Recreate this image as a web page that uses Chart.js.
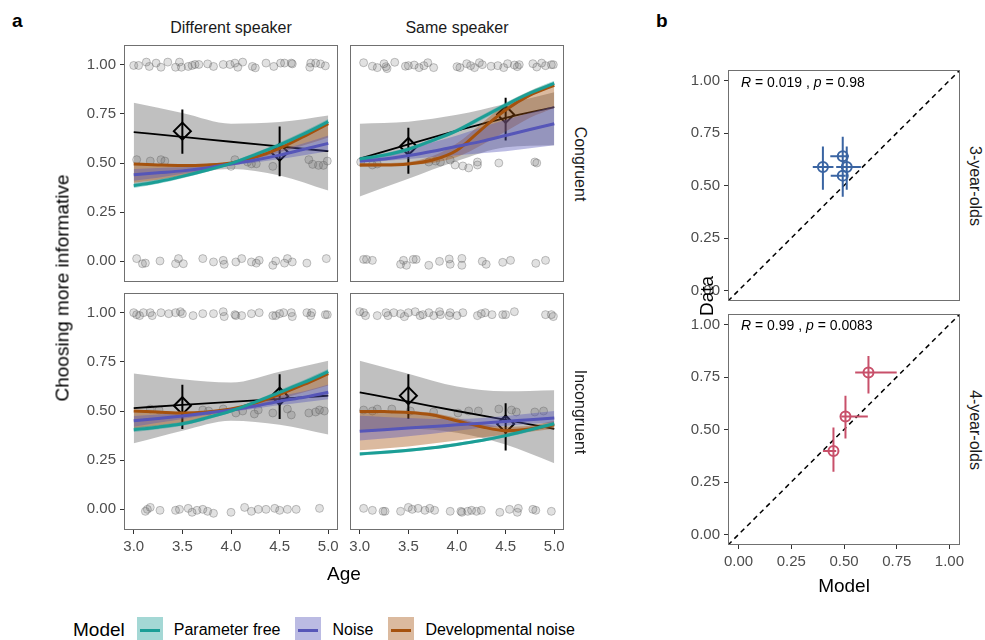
<!DOCTYPE html>
<html>
<head>
<meta charset="utf-8">
<script src="https://cdn.jsdelivr.net/npm/chart.js@4.4.0/dist/chart.umd.min.js"></script>
<style>
  html, body { margin: 0; padding: 0; background: #fff; }
  body { width: 985px; height: 640px; position: relative; overflow: hidden;
         font-family: "Liberation Sans", Arial, Helvetica, sans-serif; color: #000; }
  canvas { position: absolute; }
  .txt { position: absolute; white-space: pre; line-height: 1; }
  .ctr { transform: translate(-50%, -50%); }
  .down { transform: translate(-50%, -50%) rotate(90deg); }
  .up { transform: translate(-50%, -50%) rotate(-90deg); }
  .strip { font-size: 16px; color: #1a1a1a; }
  .title { font-size: 19px; }
  .tag { font-size: 19px; font-weight: bold; }
  .corr { font-size: 14px; transform: translateY(-50%); }
  #legend { position: absolute; left: 73px; top: 617px; height: 26px; display: flex; align-items: center; }
  #legend .key { width: 26px; height: 26px; position: relative; margin-right: 11px; }
  #legend .key span { position: absolute; left: 3px; right: 3px; top: 11.5px; height: 3px; }
  #legend .lab { font-size: 16px; margin-right: 15px; }
</style>
</head>
<body>
<div id="legend"></div>
<script>
const FONT = '"Liberation Sans", Arial, Helvetica, sans-serif';

// axes / categories
const ages = [3, 3.25, 3.5, 3.75, 4, 4.25, 4.5, 4.75, 5];
const agesFit = [3, 3.5, 4, 4.5, 5];
const agesMean = [3.5, 4.5];
const ageTicks = [3, 3.5, 4, 4.5, 5];
const propTicks = [0, 0.25, 0.5, 0.75, 1];
const modelNames = ['Parameter free', 'Noise', 'Developmental noise'];
const modelColors = ['#1b9e96', '#5656b8', '#a5520e'];
const modelFills = ['rgba(27,158,150,0.4)', 'rgba(86,86,184,0.4)', 'rgba(165,82,14,0.4)'];
const speakers = ['Different speaker', 'Same speaker'];
const conditions = ['Congruent', 'Incongruent'];
const ageGroups = ['3-year-olds', '4-year-olds'];

// --- Different speaker / Congruent
const diffCongPf = [0.385, 0.405, 0.432, 0.463, 0.498, 0.543, 0.592, 0.648, 0.71];
const diffCongPfLo = [0.373, 0.394, 0.422, 0.454, 0.49, 0.533, 0.58, 0.635, 0.696];
const diffCongPfHi = [0.397, 0.416, 0.442, 0.472, 0.506, 0.553, 0.604, 0.661, 0.724];
const diffCongNoise = [0.44, 0.45, 0.46, 0.475, 0.495, 0.515, 0.54, 0.57, 0.60];
const diffCongNoiseLo = [0.41, 0.425, 0.445, 0.465, 0.487, 0.503, 0.52, 0.54, 0.56];
const diffCongNoiseHi = [0.47, 0.475, 0.478, 0.485, 0.503, 0.53, 0.565, 0.60, 0.64];
const diffCongDev = [0.495, 0.49, 0.487, 0.49, 0.50, 0.53, 0.575, 0.635, 0.70];
const diffCongDevLo = [0.40, 0.415, 0.435, 0.46, 0.49, 0.52, 0.555, 0.59, 0.63];
const diffCongDevHi = [0.50, 0.495, 0.49, 0.495, 0.505, 0.54, 0.59, 0.65, 0.71];
const diffCongFit = [0.657, 0.633, 0.608, 0.584, 0.56];
const diffCongFitLo = [0.378, 0.437, 0.47, 0.437, 0.36];
const diffCongFitHi = [0.806, 0.754, 0.70, 0.708, 0.742];
const diffCongMean = [0.662, 0.555];
const diffCongMeanLo = [0.547, 0.433];
const diffCongMeanHi = [0.772, 0.686];
const diffCongPtsX = [
  3.00, 3.05, 3.13, 3.16, 3.23, 3.28, 3.35, 3.43, 3.47, 3.49, 3.56, 3.60, 3.63, 3.67, 3.76, 3.82, 3.92,
  3.99, 4.04, 4.07, 4.12, 4.22, 4.25, 4.36, 4.44, 4.51, 4.55, 4.62, 4.63, 4.81, 4.82, 4.87, 4.92, 4.97,
  3.03, 3.17, 3.28, 3.32, 4.00, 4.04, 4.17, 4.21, 4.26, 4.43, 4.80, 4.84, 4.90, 4.95, 4.99,
  3.03, 3.09, 3.12, 3.27, 3.43, 3.46, 3.51, 3.71, 3.82, 3.92, 3.93, 4.05, 4.11, 4.21, 4.26, 4.29,
  4.43, 4.46, 4.55, 4.58, 4.63, 4.78, 4.98
];
const diffCongPtsY = [
  0.996, 0.996, 1.013, 0.991, 1.008, 0.987, 1.013, 0.987, 1.013, 0.987, 0.991, 0.996, 1.001, 1.001, 1.004, 0.991, 1.001,
  1.001, 1.008, 0.987, 1.013, 0.991, 0.984, 1.008, 0.991, 1.008, 1.008, 1.008, 1.004, 0.987, 1.008, 1.008, 1.004, 0.994,
  0.517, 0.510, 0.517, 0.510, 0.483, 0.517, 0.505, 0.496, 0.496, 0.483, 0.517, 0.493, 0.488, 0.488, 0.510,
  0.014, -0.012, -0.009, 0.002, -0.012, 0.014, -0.012, 0.014, -0.003, 0.005, -0.015, -0.003, 0.014, -0.003, -0.009, 0.005,
  -0.020, 0.002, -0.009, 0.014, -0.003, -0.009, 0.014
];

// --- Same speaker / Congruent
const sameCongPf = [0.52, 0.54, 0.57, 0.615, 0.665, 0.73, 0.795, 0.855, 0.905];
const sameCongPfLo = [0.51, 0.53, 0.56, 0.605, 0.655, 0.718, 0.782, 0.842, 0.892];
const sameCongPfHi = [0.53, 0.55, 0.58, 0.625, 0.675, 0.742, 0.808, 0.868, 0.918];
const sameCongNoise = [0.51, 0.52, 0.538, 0.56, 0.585, 0.61, 0.64, 0.67, 0.70];
const sameCongNoiseLo = [0.50, 0.51, 0.52, 0.53, 0.54, 0.55, 0.56, 0.575, 0.59];
const sameCongNoiseHi = [0.52, 0.54, 0.57, 0.605, 0.64, 0.68, 0.72, 0.755, 0.79];
const sameCongDev = [0.49, 0.49, 0.495, 0.515, 0.565, 0.67, 0.77, 0.845, 0.895];
const sameCongDevLo = [0.48, 0.485, 0.49, 0.50, 0.53, 0.59, 0.66, 0.73, 0.78];
const sameCongDevHi = [0.50, 0.50, 0.505, 0.535, 0.60, 0.70, 0.80, 0.865, 0.91];
const sameCongFit = [0.522, 0.595, 0.665, 0.73, 0.784];
const sameCongFitLo = [0.33, 0.42, 0.51, 0.58, 0.59];
const sameCongFitHi = [0.70, 0.71, 0.745, 0.80, 0.86];
const sameCongMean = [0.584, 0.747];
const sameCongMeanLo = [0.446, 0.615];
const sameCongMeanHi = [0.679, 0.832];
const sameCongPtsX = [
  3.04, 3.13, 3.18, 3.25, 3.27, 3.28, 3.36, 3.47, 3.50, 3.56, 3.61, 3.66, 3.70, 3.76, 4.00, 4.03, 4.10,
  4.14, 4.18, 4.23, 4.26, 4.35, 4.42, 4.48, 4.52, 4.59, 4.62, 4.64, 4.78, 4.82, 4.87, 4.91, 4.97, 4.99,
  3.01, 3.13, 3.18, 3.71, 3.78, 3.83, 3.93, 3.98, 4.06, 4.12, 4.21, 4.21, 4.43, 4.80, 4.82,
  3.04, 3.07, 3.13, 3.42, 3.45, 3.48, 3.55, 3.58, 3.71, 3.82, 3.92, 3.93, 4.05, 4.05, 4.26, 4.30,
  4.47, 4.55, 4.81, 4.91
];
const sameCongPtsY = [
  1.010, 0.992, 0.985, 1.005, 0.990, 0.980, 1.012, 0.992, 0.995, 0.998, 0.985, 0.995, 1.010, 0.985, 0.990, 0.985, 1.005,
  0.995, 0.985, 1.010, 1.000, 0.992, 0.995, 0.985, 1.005, 0.998, 0.990, 1.000, 1.005, 0.988, 1.008, 0.995, 1.000, 1.000,
  0.505, 0.490, 0.495, 0.505, 0.510, 0.505, 0.515, 0.490, 0.485, 0.475, 0.505, 0.490, 0.500, 0.505, 0.500,
  0.010, 0.010, 0.005, -0.015, 0.005, -0.020, 0.010, 0.010, -0.020, 0.000, 0.012, -0.015, 0.015, -0.020, 0.000, -0.015,
  -0.005, 0.005, -0.010, 0.005
];

// --- Different speaker / Incongruent
const diffIncPf = [0.405, 0.418, 0.435, 0.465, 0.50, 0.545, 0.595, 0.645, 0.70];
const diffIncPfLo = [0.393, 0.407, 0.425, 0.456, 0.492, 0.535, 0.583, 0.632, 0.686];
const diffIncPfHi = [0.417, 0.429, 0.445, 0.474, 0.508, 0.555, 0.607, 0.658, 0.714];
const diffIncNoise = [0.45, 0.462, 0.475, 0.49, 0.505, 0.525, 0.55, 0.57, 0.595];
const diffIncNoiseLo = [0.42, 0.44, 0.46, 0.48, 0.497, 0.512, 0.53, 0.545, 0.56];
const diffIncNoiseHi = [0.475, 0.482, 0.49, 0.50, 0.513, 0.54, 0.575, 0.60, 0.635];
const diffIncDev = [0.50, 0.495, 0.49, 0.495, 0.51, 0.54, 0.585, 0.635, 0.69];
const diffIncDevLo = [0.41, 0.425, 0.44, 0.465, 0.495, 0.525, 0.56, 0.595, 0.63];
const diffIncDevHi = [0.505, 0.50, 0.495, 0.50, 0.515, 0.55, 0.60, 0.65, 0.70];
const diffIncFit = [0.515, 0.531, 0.546, 0.562, 0.578];
const diffIncFitLo = [0.336, 0.40, 0.451, 0.43, 0.38];
const diffIncFitHi = [0.691, 0.662, 0.645, 0.70, 0.755];
const diffIncMean = [0.527, 0.575];
const diffIncMeanLo = [0.409, 0.459];
const diffIncMeanHi = [0.633, 0.687];
const diffIncPtsX = [
  3.00, 3.03, 3.06, 3.10, 3.17, 3.19, 3.28, 3.36, 3.43, 3.48, 3.50, 3.61, 3.71, 3.82, 3.92, 3.93,
  4.04, 4.05, 4.11, 4.21, 4.29, 4.43, 4.46, 4.50, 4.54, 4.62, 4.63, 4.78, 4.82, 4.83, 4.97, 4.99,
  3.17, 3.26, 3.71, 3.77, 3.92, 4.05, 4.12, 4.24, 4.28, 4.43, 4.58, 4.62, 4.80, 4.87, 4.91, 4.96,
  3.12, 3.14, 3.17, 3.27, 3.43, 3.47, 3.56, 3.60, 3.65, 3.71, 3.76, 3.82, 4.00, 4.14, 4.21, 4.28,
  4.36, 4.45, 4.50, 4.58, 4.67, 4.91
];
const diffIncPtsY = [
  1.000, 0.990, 0.985, 1.000, 1.000, 0.985, 1.000, 0.995, 1.000, 1.005, 0.995, 0.985, 0.995, 0.995, 1.005, 0.980,
  0.990, 0.985, 0.985, 0.995, 1.000, 0.985, 0.985, 0.995, 1.000, 1.000, 0.980, 1.000, 0.985, 1.000, 0.990, 0.990,
  0.510, 0.505, 0.505, 0.500, 0.510, 0.490, 0.500, 0.485, 0.505, 0.490, 0.510, 0.480, 0.490, 0.495, 0.505, 0.500,
  -0.010, 0.000, 0.010, -0.005, -0.005, 0.000, 0.005, -0.015, -0.005, 0.000, -0.010, -0.020, -0.015, 0.010, -0.010, 0.000,
  0.000, 0.005, -0.005, 0.000, 0.000, 0.005
];

// --- Same speaker / Incongruent
const sameIncPf = [0.282, 0.29, 0.30, 0.313, 0.33, 0.35, 0.375, 0.405, 0.435];
const sameIncPfLo = [0.274, 0.282, 0.292, 0.305, 0.322, 0.342, 0.366, 0.395, 0.424];
const sameIncPfHi = [0.29, 0.298, 0.308, 0.321, 0.338, 0.358, 0.384, 0.415, 0.446];
const sameIncNoise = [0.397, 0.405, 0.413, 0.421, 0.43, 0.438, 0.447, 0.456, 0.465];
const sameIncNoiseLo = [0.35, 0.36, 0.372, 0.385, 0.40, 0.415, 0.425, 0.435, 0.44];
const sameIncNoiseHi = [0.476, 0.47, 0.465, 0.46, 0.46, 0.465, 0.475, 0.487, 0.50];
const sameIncDev = [0.498, 0.497, 0.493, 0.48, 0.45, 0.42, 0.40, 0.408, 0.43];
const sameIncDevLo = [0.30, 0.31, 0.32, 0.335, 0.35, 0.365, 0.38, 0.395, 0.41];
const sameIncDevHi = [0.505, 0.503, 0.50, 0.49, 0.465, 0.435, 0.42, 0.425, 0.45];
const sameIncFit = [0.595, 0.548, 0.50, 0.455, 0.409];
const sameIncFitLo = [0.40, 0.41, 0.39, 0.33, 0.235];
const sameIncFitHi = [0.755, 0.69, 0.625, 0.60, 0.606];
const sameIncMean = [0.578, 0.434];
const sameIncMeanLo = [0.459, 0.299];
const sameIncMeanHi = [0.687, 0.539];
const sameIncPtsX = [
  3.00, 3.04, 3.06, 3.18, 3.27, 3.29, 3.35, 3.42, 3.46, 3.50, 3.57, 3.62, 3.65, 3.71, 3.76, 3.82,
  3.83, 3.92, 3.93, 4.00, 4.06, 4.21, 4.25, 4.29, 4.36, 4.47, 4.50, 4.59, 4.91, 4.97, 4.99,
  3.04, 3.13, 3.18, 3.33, 3.52, 3.76, 4.01, 4.12, 4.22, 4.43, 4.56, 4.61, 4.80, 4.89,
  3.04, 3.13, 3.24, 3.26, 3.42, 3.50, 3.54, 3.60, 3.67, 3.72, 3.77, 3.93, 4.04, 4.05, 4.11, 4.15,
  4.20, 4.25, 4.44, 4.54, 4.62, 4.63, 4.78, 4.81, 4.97
];
const sameIncPtsY = [
  1.005, 1.000, 0.985, 0.985, 1.000, 0.985, 1.000, 0.995, 0.980, 1.000, 1.005, 0.985, 0.990, 1.000, 0.985, 1.005,
  0.990, 0.985, 1.000, 0.985, 1.000, 0.985, 0.995, 1.000, 0.990, 0.990, 0.990, 1.005, 0.990, 0.990, 0.980,
  0.505, 0.500, 0.510, 0.510, 0.500, 0.495, 0.490, 0.500, 0.500, 0.510, 0.505, 0.495, 0.495, 0.500,
  0.005, -0.005, -0.010, -0.010, -0.010, 0.010, 0.000, 0.005, -0.005, 0.005, -0.005, -0.010, -0.010, -0.015, -0.010, -0.005,
  -0.010, -0.005, -0.015, 0.000, -0.015, 0.005, 0.000, -0.005, -0.010
];

// --- panel b: model vs data
const model3 = [0.40, 0.494, 0.513, 0.494];
const model3Lo = [0.352, 0.435, 0.463, 0.437];
const model3Hi = [0.45, 0.523, 0.58, 0.508];
const data3 = [0.588, 0.639, 0.588, 0.547];
const data3Lo = [0.48, 0.545, 0.48, 0.447];
const data3Hi = [0.686, 0.732, 0.686, 0.645];
const model4 = [0.45, 0.507, 0.616];
const model4Lo = [0.40, 0.487, 0.553];
const model4Hi = [0.463, 0.613, 0.75];
const data4 = [0.398, 0.562, 0.771];
const data4Lo = [0.299, 0.457, 0.672];
const data4Hi = [0.509, 0.661, 0.85];
const corrLabels = [['0.019', '0.98'], ['0.99', '0.0083']];
const groupColors = ['#3a64a2', '#c8506a'];
const diagLine = [-0.05, 1.05];

// ---------- helpers
function pts(xs, ys) { return xs.map((x, i) => ({ x: x, y: ys[i] })); }

function lineDs(xs, ys, color, width, order) {
  return { data: pts(xs, ys), borderColor: color, borderWidth: width, pointRadius: 0,
           fill: false, cubicInterpolationMode: 'monotone', order: order };
}

function ribbon(xs, lo, hi, color, order) {
  return [
    { data: pts(xs, lo), borderWidth: 0, pointRadius: 0, fill: false, cubicInterpolationMode: 'monotone', order: order },
    { data: pts(xs, hi), borderWidth: 0, pointRadius: 0, fill: '-1', backgroundColor: color,
      cubicInterpolationMode: 'monotone', order: order }
  ];
}

// error bars as broken line segments
function vBars(xs, lo, hi, color, order) {
  const d = [];
  xs.forEach((x, i) => { d.push({ x: x, y: lo[i] }, { x: x, y: hi[i] }, { x: x, y: null }); });
  return { data: d, borderColor: color, borderWidth: 2, pointRadius: 0, fill: false, spanGaps: false, order: order };
}
function hBars(ys, lo, hi, color, order) {
  const d = [];
  ys.forEach((y, i) => { d.push({ x: lo[i], y: y }, { x: hi[i], y: y }, { x: null, y: y }); });
  return { data: d, borderColor: color, borderWidth: 2, pointRadius: 0, fill: false, spanGaps: false, order: order };
}

function axis(min, max, ticks, digits, show, isX, extent) {
  return {
    type: 'linear', min: min, max: max, display: show,
    afterBuildTicks: s => { s.ticks = ticks.map(v => ({ value: v })); },
    afterFit: s => {
      if (isX) { s.height = extent; s.paddingLeft = 0; s.paddingRight = 0; }
      else { s.width = extent; s.paddingTop = 0; s.paddingBottom = 0; }
    },
    grid: { display: true, drawOnChartArea: false, drawTicks: true, tickLength: 4, color: '#333', lineWidth: 1 },
    border: { display: false },
    ticks: { autoSkip: false, maxRotation: 0, padding: 4, color: '#4d4d4d',
             font: { size: 15, family: FONT }, callback: v => Number(v).toFixed(digits) }
  };
}

const framePlugin = {
  id: 'frame',
  afterDraw(chart) {
    const { ctx, chartArea: a } = chart;
    ctx.save();
    ctx.strokeStyle = '#707070';
    ctx.lineWidth = 1;
    ctx.strokeRect(Math.round(a.left) + 0.5, Math.round(a.top) + 0.5,
                   Math.round(a.width) - 1, Math.round(a.height) - 1);
    ctx.restore();
  }
};

const PAD = 6;
function makePanel(box, showX, showY, xr, yr, xTicks, yTicks, xDigits, datasets) {
  const yw = showY ? 50 : 0;
  const xh = showX ? 30 : 0;
  const cv = document.createElement('canvas');
  const w = box.w + yw + 2 * PAD, h = box.h + xh + 2 * PAD;
  cv.width = w; cv.height = h;
  cv.style.left = (box.l - yw - PAD) + 'px';
  cv.style.top = (box.t - PAD) + 'px';
  cv.style.width = w + 'px'; cv.style.height = h + 'px';
  document.body.appendChild(cv);
  return new Chart(cv.getContext('2d'), {
    type: 'line',
    data: { datasets: datasets },
    options: {
      responsive: false, animation: false, events: [],
      layout: { padding: PAD, autoPadding: false },
      plugins: { legend: { display: false }, tooltip: { enabled: false } },
      scales: {
        x: axis(xr[0], xr[1], xTicks, xDigits, showX, true, xh),
        y: axis(yr[0], yr[1], yTicks, 2, showY, false, yw)
      }
    },
    plugins: [framePlugin]
  });
}

// ---------- panel a
function ageDatasets(lines, los, his, fit, fitLo, fitHi, mean, meanLo, meanHi, px, py) {
  const ds = [];
  lines.forEach((ys, m) => ds.push(lineDs(ages, ys, modelColors[m], 3, 1)));
  lines.forEach((ys, m) => ds.push(...ribbon(ages, los[m], his[m], modelFills[m], 2)));
  ds.push({ data: pts(agesMean, mean), showLine: false, pointStyle: 'rectRot', pointRadius: 8.5,
            pointBorderWidth: 2, pointBorderColor: '#000', pointBackgroundColor: 'rgba(0,0,0,0)', order: 3 });
  ds.push(vBars(agesMean, meanLo, meanHi, '#000', 4));
  ds.push(lineDs(agesFit, fit, '#000', 1.8, 5));
  ds.push({ data: pts(px, py), showLine: false, pointRadius: 4, pointBorderWidth: 1,
            pointBackgroundColor: 'rgba(90,90,90,0.18)', pointBorderColor: 'rgba(90,90,90,0.35)', order: 6 });
  ds.push(...ribbon(agesFit, fitLo, fitHi, 'rgba(153,153,153,0.62)', 7));
  return ds;
}

const ageRange = [2.9, 5.1];
const propRange = [-0.105, 1.1];

makePanel({ l: 124, t: 45, w: 214, h: 237 }, false, true, ageRange, propRange, ageTicks, propTicks, 1,
  ageDatasets([diffCongPf, diffCongNoise, diffCongDev], [diffCongPfLo, diffCongNoiseLo, diffCongDevLo],
    [diffCongPfHi, diffCongNoiseHi, diffCongDevHi], diffCongFit, diffCongFitLo, diffCongFitHi,
    diffCongMean, diffCongMeanLo, diffCongMeanHi, diffCongPtsX, diffCongPtsY));
makePanel({ l: 350, t: 45, w: 214, h: 237 }, false, false, ageRange, propRange, ageTicks, propTicks, 1,
  ageDatasets([sameCongPf, sameCongNoise, sameCongDev], [sameCongPfLo, sameCongNoiseLo, sameCongDevLo],
    [sameCongPfHi, sameCongNoiseHi, sameCongDevHi], sameCongFit, sameCongFitLo, sameCongFitHi,
    sameCongMean, sameCongMeanLo, sameCongMeanHi, sameCongPtsX, sameCongPtsY));
makePanel({ l: 124, t: 293, w: 214, h: 237 }, true, true, ageRange, propRange, ageTicks, propTicks, 1,
  ageDatasets([diffIncPf, diffIncNoise, diffIncDev], [diffIncPfLo, diffIncNoiseLo, diffIncDevLo],
    [diffIncPfHi, diffIncNoiseHi, diffIncDevHi], diffIncFit, diffIncFitLo, diffIncFitHi,
    diffIncMean, diffIncMeanLo, diffIncMeanHi, diffIncPtsX, diffIncPtsY));
makePanel({ l: 350, t: 293, w: 214, h: 237 }, true, false, ageRange, propRange, ageTicks, propTicks, 1,
  ageDatasets([sameIncPf, sameIncNoise, sameIncDev], [sameIncPfLo, sameIncNoiseLo, sameIncDevLo],
    [sameIncPfHi, sameIncNoiseHi, sameIncDevHi], sameIncFit, sameIncFitLo, sameIncFitHi,
    sameIncMean, sameIncMeanLo, sameIncMeanHi, sameIncPtsX, sameIncPtsY));

// ---------- panel b
function corrDatasets(mx, mxLo, mxHi, dy, dyLo, dyHi, color) {
  return [
    { data: pts(mx, dy), showLine: false, pointStyle: 'circle', pointRadius: 5, pointBorderWidth: 2,
      pointBorderColor: color, pointBackgroundColor: 'rgba(0,0,0,0)', order: 1 },
    hBars(dy, mxLo, mxHi, color, 2),
    vBars(mx, dyLo, dyHi, color, 2),
    { data: pts(diagLine, diagLine), borderColor: '#000', borderWidth: 1.5, borderDash: [5, 4],
      pointRadius: 0, fill: false, order: 5 }
  ];
}
const unitRange = [-0.05, 1.05];
makePanel({ l: 728, t: 70, w: 232, h: 231 }, false, true, unitRange, unitRange, propTicks, propTicks, 2,
  corrDatasets(model3, model3Lo, model3Hi, data3, data3Lo, data3Hi, groupColors[0]));
makePanel({ l: 728, t: 314, w: 232, h: 231 }, true, true, unitRange, unitRange, propTicks, propTicks, 2,
  corrDatasets(model4, model4Lo, model4Hi, data4, data4Lo, data4Hi, groupColors[1]));

// ---------- text
function addText(html, cls, x, y) {
  const d = document.createElement('div');
  d.className = 'txt ' + cls;
  d.style.left = x + 'px'; d.style.top = y + 'px';
  d.innerHTML = html;
  document.body.appendChild(d);
}
addText('a', 'tag', 12, 11);
addText('b', 'tag', 656, 11);
addText(speakers[0], 'strip ctr', 231, 28);
addText(speakers[1], 'strip ctr', 457, 28);
addText(conditions[0], 'strip down', 580, 163.5);
addText(conditions[1], 'strip down', 580, 411.5);
addText('Choosing more informative', 'title up', 62, 287.5);
addText('Age', 'title ctr', 344, 573);
addText('Data', 'title up', 706, 296);
addText('Model', 'title ctr', 844, 585);
addText(ageGroups[0], 'strip down', 975, 185.5);
addText(ageGroups[1], 'strip down', 975, 429.5);
addText('<i>R</i> = ' + corrLabels[0][0] + ' , <i>p</i> = ' + corrLabels[0][1], 'corr', 741, 81.5);
addText('<i>R</i> = ' + corrLabels[1][0] + ' , <i>p</i> = ' + corrLabels[1][1], 'corr', 741, 325);

// legend
const legend = document.getElementById('legend');
legend.innerHTML = '<span class="title" style="margin-right:12px">Model</span>' +
  modelNames.map((n, i) =>
    `<div class="key" style="background:${modelFills[i]}"><span style="background:${modelColors[i]}"></span></div>` +
    `<span class="lab">${n}</span>`).join('');
</script>
</body>
</html>
